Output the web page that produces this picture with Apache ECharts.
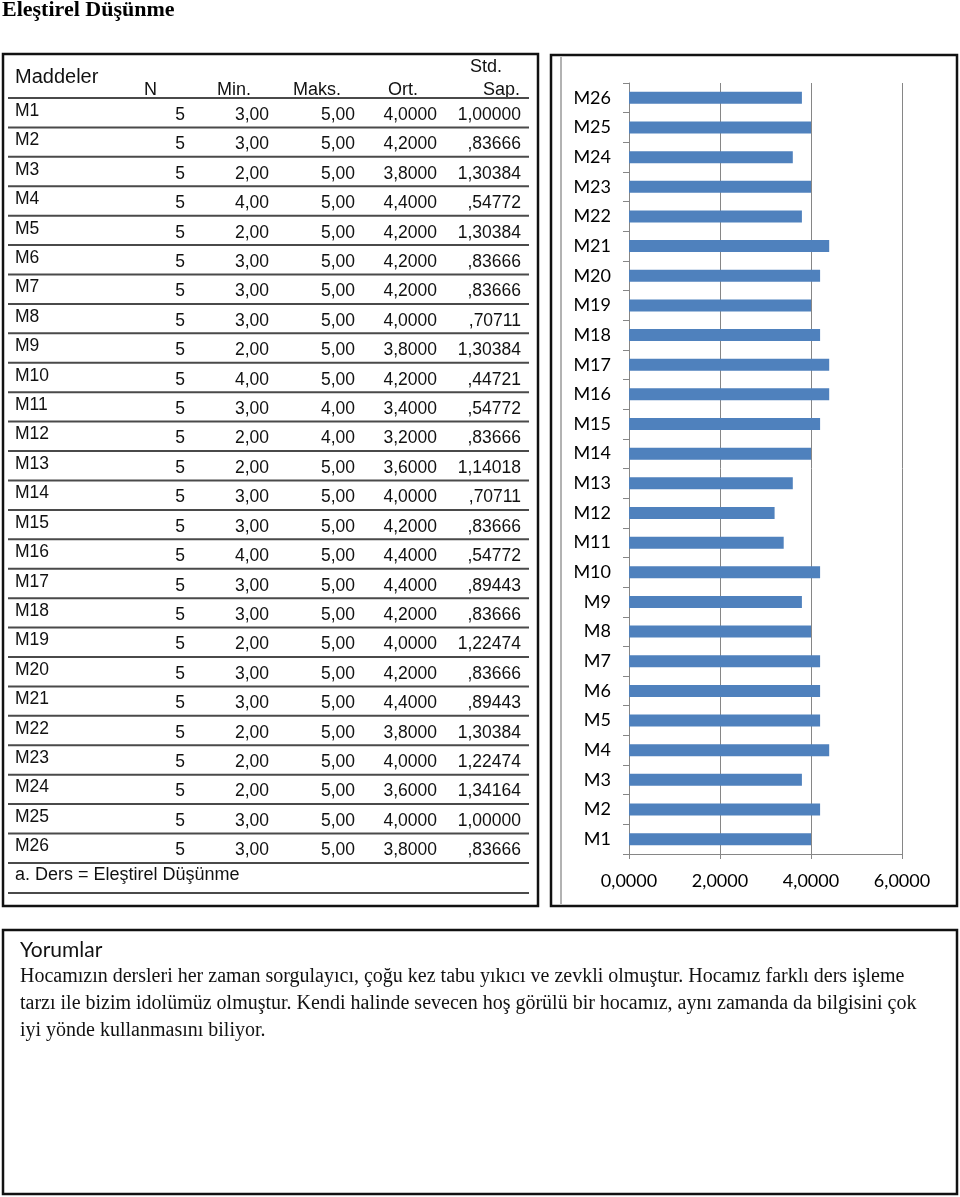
<!DOCTYPE html>
<html><head><meta charset="utf-8">
<script src="https://cdn.jsdelivr.net/npm/echarts@6/dist/echarts.min.js"></script>
<style>html,body{margin:0;padding:0;background:#fff}#c{width:960px;height:1197px}</style>
</head><body><div id="c"></div>
<script>
// ---- data ----
const pageTitle = 'Eleştirel Düşünme';
const items = ['M1','M2','M3','M4','M5','M6','M7','M8','M9','M10','M11','M12','M13','M14','M15','M16','M17','M18','M19','M20','M21','M22','M23','M24','M25','M26'];
const nVals = [5,5,5,5,5,5,5,5,5,5,5,5,5,5,5,5,5,5,5,5,5,5,5,5,5,5];
const minVals = [3,3,2,4,2,3,3,3,2,4,3,2,2,3,3,4,3,3,2,3,3,2,2,2,3,3];
const maxVals = [5,5,5,5,5,5,5,5,5,5,4,4,5,5,5,5,5,5,5,5,5,5,5,5,5,5];
const meanVals = [4.0,4.2,3.8,4.4,4.2,4.2,4.2,4.0,3.8,4.2,3.4,3.2,3.6,4.0,4.2,4.4,4.4,4.2,4.0,4.2,4.4,3.8,4.0,3.6,4.0,3.8];
const sdVals = [1.00000,0.83666,1.30384,0.54772,1.30384,0.83666,0.83666,0.70711,1.30384,0.44721,0.54772,0.83666,1.14018,0.70711,0.83666,0.54772,0.89443,0.83666,1.22474,0.83666,0.89443,1.30384,1.22474,1.34164,1.00000,0.83666];
const headers = ['Maddeler','N','Min.','Maks.','Ort.','Std.','Sap.'];
const footnote = 'a. Ders = Eleştirel Düşünme';
const xTicks = [0, 2, 4, 6];
const commentTitle = 'Yorumlar';
const commentLines = [
  'Hocamızın dersleri her zaman sorgulayıcı, çoğu kez tabu yıkıcı ve zevkli olmuştur. Hocamız farklı ders işleme',
  'tarzı ile bizim idolümüz olmuştur. Kendi halinde sevecen hoş görülü bir hocamız, aynı zamanda da bilgisini çok',
  'iyi yönde kullanmasını biliyor.'
];

// ---- helpers ----
function spss(v, d) {
  let s = v.toFixed(d).replace('.', ',');
  if (s.startsWith('0,')) s = s.slice(1);
  return s;
}
function txt(x, y, text, font, align, fill) {
  return {type:'text', x:x, y:y, silent:true,
    style:{text:text, font:font, fill:fill||'#111', align:align||'left', verticalAlign:'middle',
           textAlign:align||'left', textVerticalAlign:'middle'}};
}
function ln(x1, y1, x2, y2, stroke, w) {
  return {type:'line', silent:true, shape:{x1:x1,y1:y1,x2:x2,y2:y2}, style:{stroke:stroke, lineWidth:w}};
}
function box(x, y, w, h, stroke, lw) {
  return {type:'rect', silent:true, shape:{x:x,y:y,width:w,height:h}, style:{fill:'none', stroke:stroke, lineWidth:lw}};
}

const g = [];
const tFont = '18px "Liberation Sans", Arial, sans-serif';
const nFont = '17.5px "Liberation Sans", Arial, sans-serif';
g.push(txt(2, 10, pageTitle, 'bold 22px "Liberation Serif", "Times New Roman", serif', 'left', '#000'));
// table box
g.push(box(3, 54, 535, 852, '#111', 2.5));
// chart box
g.push(box(551, 55, 406, 851, '#111', 2.5));
g.push(ln(561, 57, 561, 904, '#999', 1.5));
// comments box
g.push(box(3, 930, 954, 264, '#111', 2.5));

// table header
const colRight = [185, 269, 355, 437, 521];
const headRight = [157, 251, 341, 418];
g.push(txt(15, 77, headers[0], '20px "Liberation Sans", Arial, sans-serif', 'left'));
for (let i = 0; i < 4; i++) g.push(txt(headRight[i], 90, headers[i+1], tFont, 'right'));
g.push(txt(486, 67, headers[5], tFont, 'center'));
g.push(txt(520, 90, headers[6], tFont, 'right'));
const lineX1 = 8, lineX2 = 529, lineCol = '#4a4a4a';
const top0 = 98, rowH = 29.42;
g.push(ln(lineX1, top0, lineX2, top0, lineCol, 2));
for (let k = 0; k < items.length; k++) {
  const yTop = top0 + rowH * k;
  const yBot = top0 + rowH * (k + 1);
  g.push(txt(15, yTop + 13, items[k], nFont, 'left'));
  const cells = [String(nVals[k]), spss(minVals[k], 2), spss(maxVals[k], 2), spss(meanVals[k], 4), spss(sdVals[k], 5)];
  for (let c = 0; c < 5; c++) g.push(txt(colRight[c], yTop + 17, cells[c], nFont, 'right'));
  g.push(ln(lineX1, yBot, lineX2, yBot, lineCol, 2));
}
const lastLine = top0 + rowH * items.length;
g.push(txt(15, lastLine + 12, footnote, tFont, 'left'));
g.push(ln(lineX1, lastLine + 30, lineX2, lastLine + 30, lineCol, 2));

// comments
g.push(txt(20, 950, commentTitle, '21px Lato, sans-serif', 'left', '#111'));
const cFont = '20px "Liberation Serif", "Times New Roman", serif';
commentLines.forEach((s, i) => g.push(txt(20, 977 + 27 * i, s, cFont, 'left', '#111')));

const axisGray = '#868686';
const chart = echarts.init(document.getElementById('c'), null, {renderer:'canvas'});
chart.setOption({
  backgroundColor:'#fff',
  animation:false,
  grid:{left:629, top:83, width:273, height:771, containLabel:false},
  xAxis:{type:'value', min:xTicks[0], max:xTicks[xTicks.length-1], interval:xTicks[1]-xTicks[0],
    axisLine:{show:true, lineStyle:{color:axisGray, width:1}},
    axisTick:{show:true, length:5, lineStyle:{color:axisGray}},
    splitLine:{show:true, lineStyle:{color:axisGray, width:1}},
    axisLabel:{formatter:v => v.toFixed(4).replace('.', ','), color:'#000', fontFamily:'Lato', fontSize:18, margin:18}},
  yAxis:{type:'category', data:items,
    axisLine:{show:true, lineStyle:{color:axisGray, width:1}},
    axisTick:{show:true, length:6, lineStyle:{color:axisGray}},
    axisLabel:{color:'#000', fontFamily:'Lato', fontSize:18, margin:18}},
  series:[{type:'bar', data:meanVals, barWidth:12, itemStyle:{color:'#4F81BD'}}],
  graphic:{elements:g}
});
</script></body></html>
